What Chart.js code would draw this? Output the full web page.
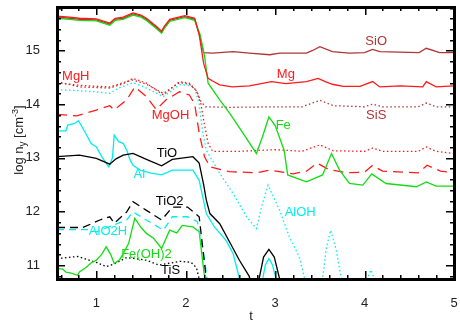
<!DOCTYPE html>
<html>
<head>
<meta charset="utf-8">
<script src="https://cdn.jsdelivr.net/npm/chart.js@4"></script>
<style>
    html, body { margin: 0; padding: 0; background: #fff; }
    #wrap { width: 460px; height: 324px; }
</style>
</head>
<body>
<div id="wrap"><canvas id="chart" width="460" height="324"></canvas></div>
<script>
// axis ranges and ticks
const xMin = 0.56, xMax = 5;
const yMin = 10.74, yMax = 15.81;
const tickX = [1, 2, 3, 4, 5];
const tickY = [11, 12, 13, 14, 15];

// series values (t, log n)
const mgT = [0.56, 0.7, 0.81, 1.0, 1.15, 1.21, 1.3, 1.41, 1.5, 1.56, 1.67, 1.73, 1.76, 1.82, 1.99, 2.1, 2.15, 2.2, 2.25, 2.3, 2.38, 2.52, 2.71, 2.96, 3.12, 3.35, 3.48, 3.56, 3.64, 3.76, 3.95, 4.09, 4.17, 4.4, 4.65, 4.69, 4.8, 5.0];
const mgV = [15.64, 15.62, 15.6, 15.59, 15.51, 15.6, 15.62, 15.7, 15.66, 15.6, 15.45, 15.36, 15.45, 15.58, 15.65, 15.6, 15.3, 14.76, 14.48, 14.43, 14.36, 14.32, 14.34, 14.42, 14.38, 14.42, 14.48, 14.42, 14.37, 14.33, 14.33, 14.42, 14.32, 14.34, 14.32, 14.42, 14.32, 14.34];

const sioT = [0.56, 0.7, 0.81, 1.0, 1.15, 1.21, 1.3, 1.41, 1.5, 1.56, 1.67, 1.73, 1.76, 1.82, 1.99, 2.1, 2.15, 2.2, 2.3, 2.53, 2.71, 2.94, 3.05, 3.35, 3.42, 3.5, 3.64, 3.83, 4.0, 4.09, 4.17, 4.61, 4.69, 4.84, 5.0];
const sioV = [15.62, 15.6, 15.58, 15.57, 15.49, 15.58, 15.6, 15.68, 15.64, 15.58, 15.43, 15.34, 15.43, 15.56, 15.63, 15.58, 15.3, 14.96, 14.95, 14.98, 14.95, 14.92, 14.95, 14.95, 15.0, 15.07, 14.98, 14.95, 14.96, 15.02, 14.98, 14.96, 15.04, 14.96, 14.96];

const feT = [0.56, 0.7, 0.81, 1.0, 1.15, 1.21, 1.3, 1.41, 1.5, 1.56, 1.67, 1.73, 1.76, 1.82, 1.99, 2.1, 2.16, 2.21, 2.25, 2.38, 2.49, 2.64, 2.79, 2.86, 2.93, 3.0, 3.1, 3.14, 3.35, 3.53, 3.63, 3.72, 3.83, 3.98, 4.08, 4.24, 4.58, 4.69, 4.8, 5.0];
const feV = [15.6, 15.58, 15.56, 15.55, 15.47, 15.56, 15.58, 15.66, 15.62, 15.56, 15.41, 15.32, 15.41, 15.54, 15.61, 15.56, 15.3, 14.9, 14.39, 14.08, 13.83, 13.46, 13.08, 13.4, 13.76, 13.6, 13.14, 12.68, 12.55, 12.68, 13.08, 12.77, 12.52, 12.49, 12.7, 12.52, 12.46, 12.55, 12.47, 12.47];

const mghT = [0.56, 0.81, 1.15, 1.3, 1.41, 1.56, 1.75, 1.93, 2.04, 2.12, 2.17, 2.2, 2.25, 2.3, 2.6, 3.0, 3.3, 3.5, 3.65, 4.0, 4.09, 4.2, 4.6, 4.69, 4.8, 5.0];
const mghV = [14.42, 14.32, 14.3, 14.38, 14.48, 14.39, 14.17, 14.42, 14.39, 14.25, 14.0, 13.7, 13.27, 13.12, 13.12, 13.15, 13.12, 13.24, 13.13, 13.12, 13.18, 13.12, 13.12, 13.2, 13.12, 13.08];

const sisT = [0.56, 0.81, 1.15, 1.3, 1.41, 1.56, 1.75, 1.93, 2.04, 2.12, 2.17, 2.22, 2.5, 3.0, 3.3, 3.5, 3.65, 4.0, 4.09, 4.2, 4.6, 4.69, 4.8, 5.0];
const sisV = [14.4, 14.35, 14.32, 14.4, 14.45, 14.37, 14.2, 14.4, 14.37, 14.25, 14.05, 13.95, 13.94, 13.95, 13.95, 14.07, 13.97, 13.95, 14.0, 13.95, 13.95, 14.02, 13.95, 13.95];

const mgohT = [0.56, 0.78, 1.0, 1.15, 1.2, 1.34, 1.43, 1.56, 1.67, 1.78, 1.93, 2.04, 2.1, 2.15, 2.21, 2.27, 2.49, 2.8, 2.94, 3.2, 3.35, 3.47, 3.6, 3.8, 4.0, 4.09, 4.2, 4.6, 4.7, 4.85, 5.0];
const mgohV = [13.81, 13.78, 13.89, 13.97, 13.89, 14.08, 14.32, 14.14, 13.9, 14.08, 14.23, 14.17, 14.0, 13.46, 13.02, 12.83, 12.74, 12.72, 12.77, 12.7, 12.75, 12.9, 12.78, 12.72, 12.73, 12.86, 12.75, 12.72, 12.86, 12.75, 12.72];

const alohT = [0.56, 0.8, 1.0, 1.15, 1.25, 1.41, 1.56, 1.75, 1.93, 2.04, 2.1, 2.15, 2.19, 2.23, 2.38, 2.53, 2.68, 2.79, 2.85, 2.92, 3.05, 3.16, 3.27, 3.33, 3.4, 3.48, 3.53, 3.57, 3.62, 3.68, 3.74, 3.8, 3.98, 4.03, 4.07, 4.11, 4.16];
const alohV = [14.27, 14.25, 14.23, 14.2, 14.3, 14.4, 14.3, 14.14, 14.36, 14.35, 14.3, 14.0, 13.46, 13.14, 12.71, 12.33, 11.9, 11.68, 12.1, 12.49, 12.02, 11.52, 11.15, 10.74, 10.5, 10.5, 10.74, 11.3, 11.65, 11.3, 10.74, 10.5, 10.5, 10.74, 10.91, 10.74, 10.5];

const tioT = [0.56, 0.81, 1.0, 1.11, 1.15, 1.22, 1.3, 1.41, 1.56, 1.73, 1.85, 2.08, 2.15, 2.2, 2.23, 2.27, 2.38, 2.51, 2.6, 2.71, 2.75, 2.82, 2.87, 2.93, 2.99, 3.05, 3.1];
const tioV = [13.02, 13.05, 12.99, 12.91, 12.88, 12.98, 13.05, 13.08, 12.97, 12.85, 12.97, 13.02, 12.9, 12.5, 12.21, 11.96, 11.77, 11.37, 11.09, 10.79, 10.5, 10.74, 11.15, 11.29, 11.15, 10.74, 10.5];

const alT = [0.56, 0.66, 0.68, 0.76, 0.8, 0.87, 0.94, 1.0, 1.06, 1.11, 1.14, 1.18, 1.2, 1.25, 1.3, 1.34, 1.38, 1.41, 1.49, 1.6, 1.73, 1.85, 2.08, 2.15, 2.23, 2.32, 2.45, 2.53, 2.6, 2.7, 2.86, 2.89, 2.93, 2.97, 3.01, 3.1];
const alV = [13.5, 13.5, 13.61, 13.64, 13.69, 13.49, 13.27, 13.2, 13.02, 12.9, 12.83, 13.0, 13.42, 13.3, 13.27, 13.14, 12.95, 12.86, 12.77, 12.72, 12.68, 12.77, 12.77, 12.58, 11.96, 11.71, 11.46, 11.21, 10.75, 10.5, 10.74, 11.0, 11.12, 11.0, 10.74, 10.5];

const tio2T = [0.56, 0.85, 1.04, 1.15, 1.2, 1.34, 1.41, 1.56, 1.73, 1.85, 2.02, 2.15, 2.23, 2.3];
const tio2V = [11.7, 11.7, 11.84, 11.9, 11.78, 11.99, 12.18, 12.02, 11.84, 12.08, 12.08, 11.9, 10.74, 10.5];

const alo2hT = [0.56, 0.9, 1.0, 1.2, 1.34, 1.41, 1.56, 1.75, 1.85, 2.02, 2.13, 2.2, 2.26];
const alo2hV = [11.66, 11.66, 11.62, 11.75, 11.84, 11.99, 11.84, 11.65, 11.9, 11.9, 11.81, 11.2, 10.5];

const feoh2T = [0.56, 0.62, 0.66, 0.72, 0.79, 0.81, 0.88, 0.95, 1.0, 1.06, 1.11, 1.16, 1.2, 1.26, 1.3, 1.36, 1.43, 1.5, 1.56, 1.64, 1.73, 1.82, 1.9, 1.96, 2.08, 2.15, 2.18, 2.23];
const feoh2V = [10.93, 10.93, 10.87, 10.85, 10.81, 10.87, 10.95, 11.05, 11.09, 11.2, 11.34, 11.2, 11.03, 11.1, 11.21, 11.4, 11.87, 11.7, 11.59, 11.5, 11.31, 11.65, 11.6, 11.74, 11.71, 11.62, 11.2, 10.5];

const tisT = [0.56, 0.79, 1.0, 1.11, 1.2, 1.34, 1.56, 1.7, 1.94, 2.06, 2.12, 2.17];
const tisV = [11.12, 11.16, 11.05, 10.97, 11.02, 11.14, 11.09, 11.0, 11.07, 11.05, 10.95, 10.6];

// in-plot species labels (text, t, log n)
const labelText = ['SiO', 'Mg', 'SiS', 'Fe', 'MgH', 'MgOH', 'TiO', 'Al', 'TiO2', 'AlO2H', 'Fe(OH)2', 'TiS', 'AlOH'];
const labelT = [4.13, 3.12, 4.13, 3.09, 0.77, 1.83, 1.79, 1.48, 1.82, 1.13, 1.56, 1.83, 3.28];
const labelV = [15.16, 14.55, 13.78, 13.61, 14.51, 13.78, 13.09, 12.68, 12.19, 11.62, 11.2, 10.9, 11.98];

const RED = '#ff1a1a';
const BROWN = '#b03535';
const GREEN = '#11dd11';
const CYAN = '#00eeee';
const BLACK = '#000000';
const labelColor = [BROWN, RED, BROWN, GREEN, RED, RED, BLACK, CYAN, BLACK, CYAN, GREEN, BLACK, CYAN];

const FONT = "'Liberation Sans', Arial, sans-serif";

function pts(ts, vs) {
    return ts.map((t, i) => ({ x: t, y: vs[i] }));
}

function line(ts, vs, color, dash) {
    return {
        data: pts(ts, vs),
        borderColor: color,
        borderWidth: 1.3,
        borderDash: dash || [],
        pointRadius: 0,
        tension: 0,
        fill: false,
    };
}

const DOT = [1.5, 2.5];

// first dataset is painted on top
const datasets = [
    line(mgT, mgV, RED),
    line(feT, feV, GREEN),
    line(sioT, sioV, BROWN),
    line(mghT, mghV, RED, DOT),
    line(sisT, sisV, BROWN, DOT),
    line(mgohT, mgohV, RED, [10, 6]),
    line(alohT, alohV, CYAN, DOT),
    line(tioT, tioV, BLACK),
    line(alT, alV, CYAN),
    line(tio2T, tio2V, BLACK, [8, 5]),
    line(alo2hT, alo2hV, CYAN, [7, 5]),
    line(feoh2T, feoh2V, GREEN),
    line(tisT, tisV, BLACK, DOT),
];

const framePlugin = {
    id: 'frame',
    afterDraw(chart) {
        const ctx = chart.ctx;
        const xs = chart.scales.x, ys = chart.scales.y;
        const L = Math.round(xs.getPixelForValue(xMin));
        const R = Math.round(xs.getPixelForValue(xMax));
        const T = Math.round(ys.getPixelForValue(yMax));
        const B = Math.round(ys.getPixelForValue(yMin));
        ctx.save();
        ctx.setLineDash([]);
        ctx.fillStyle = BLACK;
        // frame
        ctx.fillRect(L - 1, T - 1, R - L + 3, 3);
        ctx.fillRect(L - 1, B - 1, R - L + 3, 3);
        ctx.fillRect(L - 1, T - 1, 3, B - T + 3);
        ctx.fillRect(R - 1, T - 1, 3, B - T + 3);
        // inward ticks, major and minor
        for (let i = 3; i <= 25; i++) {
            const px = Math.round(xs.getPixelForValue(i / 5));
            if (px <= L || px >= R) continue;
            const len = (i % 5 === 0) ? 8 : 4;
            ctx.fillRect(px, B - len, 1.5, len);
            ctx.fillRect(px, T, 1.5, len);
        }
        for (let i = 54; i <= 79; i++) {
            const py = Math.round(ys.getPixelForValue(i / 5));
            if (py <= T || py >= B) continue;
            const len = (i % 5 === 0) ? 8 : 4;
            ctx.fillRect(L, py, len, 1.5);
            ctx.fillRect(R - len, py, len, 1.5);
        }

        // species labels
        ctx.font = '13px ' + FONT;
        ctx.textAlign = 'center';
        ctx.textBaseline = 'middle';
        labelText.forEach((txt, i) => {
            ctx.fillStyle = labelColor[i];
            ctx.fillText(txt, xs.getPixelForValue(labelT[i]), ys.getPixelForValue(labelV[i]));
        });

        // axis titles
        ctx.fillStyle = '#222';
        ctx.fillText('t', 251, 316);

        ctx.translate(18, 140);
        ctx.rotate(-Math.PI / 2);
        ctx.textAlign = 'left';
        ctx.textBaseline = 'alphabetic';
        const parts = [
            ['log n', 13, 0],
            ['y', 10, 3],
            [' [cm', 13, 0],
            ['-3', 9, -5],
            [']', 13, 0],
        ];
        let w = 0;
        parts.forEach(p => { ctx.font = p[1] + 'px ' + FONT; w += ctx.measureText(p[0]).width; });
        let x = -w / 2;
        parts.forEach(p => {
            ctx.font = p[1] + 'px ' + FONT;
            ctx.fillText(p[0], x, 5 + p[2]);
            x += ctx.measureText(p[0]).width;
        });
        ctx.restore();
    },
};

new Chart(document.getElementById('chart').getContext('2d'), {
    type: 'line',
    data: { datasets },
    options: {
        responsive: false,
        animation: false,
        layout: { padding: { left: 0, right: 6, top: 7, bottom: 0 } },
        plugins: { legend: { display: false }, tooltip: { enabled: false } },
        scales: {
            x: {
                type: 'linear',
                min: xMin,
                max: xMax,
                grid: { display: false },
                border: { display: false },
                afterBuildTicks: s => { s.ticks = tickX.map(v => ({ value: v })); },
                afterFit: s => {
                    s.height = 45;
                    s.paddingLeft = 0;
                    s.paddingRight = 0;
                },
                ticks: { color: '#222', font: { family: FONT, size: 13 }, padding: 9, maxRotation: 0 },
            },
            y: {
                type: 'linear',
                min: yMin,
                max: yMax,
                grid: { display: false },
                border: { display: false },
                afterBuildTicks: s => { s.ticks = tickY.map(v => ({ value: v })); },
                afterFit: s => {
                    s.width = 57;
                    s.paddingTop = 0;
                    s.paddingBottom = 0;
                },
                ticks: { color: '#222', font: { family: FONT, size: 13 }, padding: 9 },
            },
        },
    },
    plugins: [framePlugin],
});
</script>
</body>
</html>
